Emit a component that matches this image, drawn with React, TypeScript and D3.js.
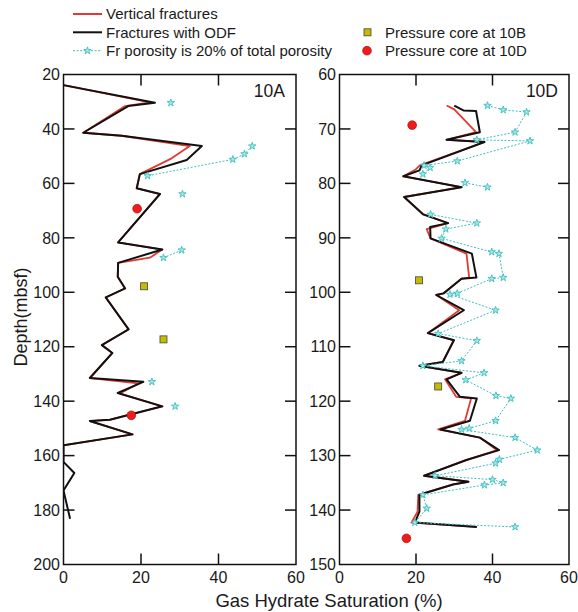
import React from "react";
import * as d3 from "d3";

// ---------- data ----------
// Site 10A
const aOdfDepth = [23.9, 30.4, 31.6, 41.4, 42.5, 46.3, 51.4, 56.6, 61.8, 63.9, 81.7, 84.3, 89.2, 94.3, 98.6, 101.9, 113.6, 119.4, 122.3, 131.5, 132.9, 137.0, 141.9, 146.8, 147.3, 152.2, 156.2, 162.3, 166.4, 172.8, 183.2];
const aOdfSat = [0, 23.6, 16.7, 5.1, 15.0, 35.7, 31.8, 19.7, 18.9, 24.9, 14.1, 25.5, 14.1, 14.0, 15.9, 10.9, 16.8, 9.9, 12.6, 6.8, 20.6, 14.0, 25.5, 12.0, 6.8, 17.8, 0, 0, 2.8, 0, 1.7];
const aVertDepth = [23.9, 30.2, 31.6, 41.4, 42.5, 46.3, 50.8, 56.6, 61.8, 63.9, 81.7, 84.3, 87.3, 89.2, 94.3, 98.6, 101.9, 113.6, 119.4, 122.3, 131.5, 133.5, 137.2, 141.9, 146.8, 147.3, 152.2, 156.2];
const aVertSat = [0, 22.3, 15.9, 5.1, 15.0, 32.6, 27.9, 19.7, 18.9, 24.9, 14.1, 25.5, 22.3, 14.1, 14.0, 15.9, 10.9, 16.8, 9.9, 12.6, 6.8, 19.3, 14.6, 25.5, 12.0, 6.8, 17.8, 0];
const aFrDepth = [30.4, null, 46.3, 49.2, 51.2, 57.2, null, 63.9, null, 84.5, 87.3, null, 132.9, null, 141.9];
const aFrSat = [27.7, null, 48.7, 46.7, 43.7, 21.7, null, 30.7, null, 30.5, 25.8, null, 22.8, null, 28.8];

// Site 10D
const dOdfDepth = [65.7, 66.6, 66.7, 70.6, 72.0, 72.4, 76.7, 77.6, 78.7, 80.7, 82.5, 85.7, 87.3, 88.0, 90.1, 92.9, 97.3, 97.5, 100.2, 100.5, 103.3, 107.5, 108.8, 112.8, 113.5, 114.8, 116.0, 119.2, 119.5, 123.6, 125.2, 126.7, 129.0, 130.8, 133.7, 134.8, 135.3, 137.2, 140.3, 142.3, 143.1];
const dOdfSat = [30.0, 32.4, 35.7, 36.7, 28.0, 37.9, 21.5, 20.9, 16.7, 31.9, 16.9, 21.9, 28.4, 23.7, 23.8, 34.6, 35.8, 31.9, 27.2, 25.3, 32.5, 23.1, 29.9, 27.0, 20.9, 31.9, 28.0, 31.5, 35.9, 34.1, 26.4, 36.7, 41.7, 33.2, 22.1, 33.7, 29.7, 20.9, 20.9, 19.7, 35.9];
const dVertDepth = [65.7, 66.4, 70.6, 72.0, 72.4, 76.7, 77.5, 78.7, 80.7, 82.5, 85.7, 87.3, 88.4, 90.1, 92.9, 97.3, 97.5, 100.2, 100.5, 103.3, 107.5, 108.8, 112.8, 113.5, 114.8, 116.0, 119.2, 119.5, 123.6, 125.2, 126.7, 129.0, 130.8, 133.7, 134.8, 135.3, 137.2, 140.3, 142.3, 143.1];
const dVertSat = [28.0, 30.0, 35.7, 28.0, 37.9, 21.0, 19.8, 16.7, 31.9, 16.9, 21.9, 28.4, 22.8, 23.8, 33.2, 33.9, 31.9, 27.2, 25.3, 31.3, 23.1, 29.9, 27.0, 20.9, 31.9, 27.6, 30.5, 34.4, 32.8, 25.8, 36.7, 41.2, 33.2, 22.1, 33.7, 29.7, 20.6, 20.4, 18.8, 35.9];
const dFrDepth = [65.7, 66.5, 66.9, 70.6, 72.0, 72.2, 75.9, 76.7, 77.1, 78.3, null, 79.9, 80.7, null, 85.7, 87.3, 88.4, 90.1, 92.6, 92.9, 97.3, 97.5, 100.2, 100.4, 103.3, 107.6, 108.9, 112.6, 113.5, 114.8, 116.1, 119.0, 119.5, 123.6, 125.0, 125.2, 126.7, 129.0, 130.7, 131.4, 133.7, 134.4, 135.0, 135.4, 137.2, 139.7, 142.3, 143.1];
const dFrSat = [38.7, 42.8, 48.9, 45.9, 35.9, 49.8, 30.8, 22.1, 23.7, 21.8, null, 32.8, 38.7, null, 23.8, 35.9, 27.8, 26.7, 39.8, 41.7, 42.8, 39.8, 30.8, 28.9, 40.8, 25.8, 35.9, 31.9, 21.8, 37.8, 33.0, 40.9, 44.8, 40.8, 33.9, 31.9, 45.9, 51.7, 41.8, 40.8, 25.0, 40.0, 42.8, 37.9, 21.8, 22.8, 19.7, 45.9];

// Pressure cores (shown on both panels)
const core10BDepth = [97.8, 117.3];
const core10BSat = [20.8, 25.8];
const core10DDepth = [69.3, 145.2];
const core10DSat = [19.0, 17.5];

const xTicks = [0, 20, 40, 60];
const aYTicks = [20, 40, 60, 80, 100, 120, 140, 160, 180, 200];
const dYTicks = [60, 70, 80, 90, 100, 110, 120, 130, 140, 150];

const legendLines = ["Vertical fractures", "Fractures with ODF", "Fr porosity is 20% of total porosity"];
const legendCores = ["Pressure core at 10B", "Pressure core at 10D"];

// ---------- style ----------
const FONT = "'Liberation Sans', Arial, Helvetica, sans-serif";
const RED = "#e03a32";
const BLACK = "#111";
const CYAN = "#3fbfc0";
const STAR_FILL = "#a8e6e6";
const SQ_FILL = "#c4bc00";
const DOT_FILL = "#ee1c1c";
const TOP = 74.5;
const BOTTOM = 564.5;

type Pt = [number | null, number | null];
const zip = (s: (number | null)[], d: (number | null)[]): Pt[] => s.map((v, i) => [v, d[i]]);

const starPath = d3.symbol().type(d3.symbolStar).size(17)() as string;

function Panel({ x0, x1, yDomain, yTicks, label, odf, vert, fr }: any) {
  const x = d3.scaleLinear().domain([0, 60]).range([x0, x1]);
  const y = d3.scaleLinear().domain(yDomain).range([TOP, BOTTOM]);
  const line = d3
    .line<Pt>()
    .defined((p) => p[0] != null && p[1] != null)
    .x((p) => x(p[0] as number))
    .y((p) => y(p[1] as number));
  const clipId = "clip" + label;
  const tl = 11;
  return (
    <g>
      <defs>
        <clipPath id={clipId}>
          <rect x={x0} y={TOP} width={x1 - x0} height={BOTTOM - TOP} />
        </clipPath>
      </defs>
      <g clipPath={`url(#${clipId})`}>
        <path d={line(vert) || ""} fill="none" stroke={RED} strokeWidth={1.8} strokeLinejoin="round" />
        <path d={line(odf) || ""} fill="none" stroke={BLACK} strokeWidth={2} strokeLinejoin="round" />
        <path d={line(fr) || ""} fill="none" stroke={CYAN} strokeWidth={1} strokeDasharray="2,1.6" />
        {fr
          .filter((p: Pt) => p[0] != null)
          .map((p: Pt, i: number) => (
            <path key={"s" + i} d={starPath} transform={`translate(${x(p[0] as number)},${y(p[1] as number)})`} fill={STAR_FILL} stroke={CYAN} strokeWidth={0.9} />
          ))}
        {core10BSat.map((s, i) => (
          <rect key={"b" + i} x={x(s) - 3.5} y={y(core10BDepth[i]) - 3.5} width={7} height={7} fill={SQ_FILL} stroke="#444" strokeWidth={0.8} />
        ))}
        {core10DSat.map((s, i) => (
          <circle key={"d" + i} cx={x(s)} cy={y(core10DDepth[i])} r={4.4} fill={DOT_FILL} stroke="#a00" strokeWidth={0.6} />
        ))}
      </g>
      {/* frame */}
      <rect x={x0} y={TOP} width={x1 - x0} height={BOTTOM - TOP} fill="none" stroke={BLACK} strokeWidth={1.5} />
      {xTicks.map((t) => (
        <g key={"xt" + t}>
          {t > 0 && t < 60 && (
            <>
              <line x1={x(t)} x2={x(t)} y1={BOTTOM} y2={BOTTOM - tl} stroke={BLACK} strokeWidth={1.5} />
              <line x1={x(t)} x2={x(t)} y1={TOP} y2={TOP + tl} stroke={BLACK} strokeWidth={1.5} />
            </>
          )}
          <text x={x(t)} y={BOTTOM + 18} textAnchor="middle" fontSize={16} fontFamily={FONT} fill="#1a1a1a">
            {t}
          </text>
        </g>
      ))}
      {yTicks.map((t: number, i: number) => (
        <g key={"yt" + t}>
          {i > 0 && i < yTicks.length - 1 && (
            <>
              <line x1={x0} x2={x0 + tl} y1={y(t)} y2={y(t)} stroke={BLACK} strokeWidth={1.5} />
              <line x1={x1} x2={x1 - tl} y1={y(t)} y2={y(t)} stroke={BLACK} strokeWidth={1.5} />
            </>
          )}
          <text x={x0 - 3.5} y={y(t) + 5.7} textAnchor="end" fontSize={16} fontFamily={FONT} fill="#1a1a1a">
            {t}
          </text>
        </g>
      ))}
      <text x={x1 - 11} y={97} textAnchor="end" fontSize={17.5} fontFamily={FONT} fill="#1a1a1a">
        {label}
      </text>
    </g>
  );
}

export default function App() {
  const legY = [14, 32.3, 50.7];
  return (
    <svg width={578} height={612} style={{ position: "absolute", left: 0, top: 0, background: "#fff" }}>
      <rect width={578} height={612} fill="#fff" />
      {/* legend */}
      <line x1={73} x2={102} y1={legY[0]} y2={legY[0]} stroke={RED} strokeWidth={2} />
      <line x1={73} x2={102} y1={legY[1]} y2={legY[1]} stroke={BLACK} strokeWidth={2} />
      <line x1={73} x2={102} y1={legY[2]} y2={legY[2]} stroke={CYAN} strokeWidth={1} strokeDasharray="2,1.6" />
      <path d={starPath} transform={`translate(87.5,${legY[2]})`} fill={STAR_FILL} stroke={CYAN} strokeWidth={0.9} />
      {legendLines.map((t, i) => (
        <text key={t} x={106} y={legY[i] + 5.4} fontSize={15} fontFamily={FONT} fill="#1a1a1a">
          {t}
        </text>
      ))}
      <rect x={367.5 - 3.5} y={legY[1] - 3.5} width={7} height={7} fill={SQ_FILL} stroke="#444" strokeWidth={0.8} />
      <circle cx={367} cy={legY[2]} r={4.4} fill={DOT_FILL} stroke="#a00" strokeWidth={0.6} />
      {legendCores.map((t, i) => (
        <text key={t} x={385} y={legY[i + 1] + 5.4} fontSize={15} fontFamily={FONT} fill="#1a1a1a">
          {t}
        </text>
      ))}

      <Panel x0={63.5} x1={296} yDomain={[20, 200]} yTicks={aYTicks} label="10A" odf={zip(aOdfSat, aOdfDepth)} vert={zip(aVertSat, aVertDepth)} fr={zip(aFrSat, aFrDepth)} />
      <Panel x0={339.5} x1={569} yDomain={[60, 150]} yTicks={dYTicks} label="10D" odf={zip(dOdfSat, dOdfDepth)} vert={zip(dVertSat, dVertDepth)} fr={zip(dFrSat, dFrDepth)} />

      <text transform="translate(26.5,317) rotate(-90)" textAnchor="middle" fontSize={18} fontFamily={FONT} fill="#1a1a1a">
        Depth(mbsf)
      </text>
      <text x={329} y={606.5} textAnchor="middle" fontSize={18.5} fontFamily={FONT} fill="#1a1a1a">
        Gas Hydrate Saturation (%)
      </text>
    </svg>
  );
}
